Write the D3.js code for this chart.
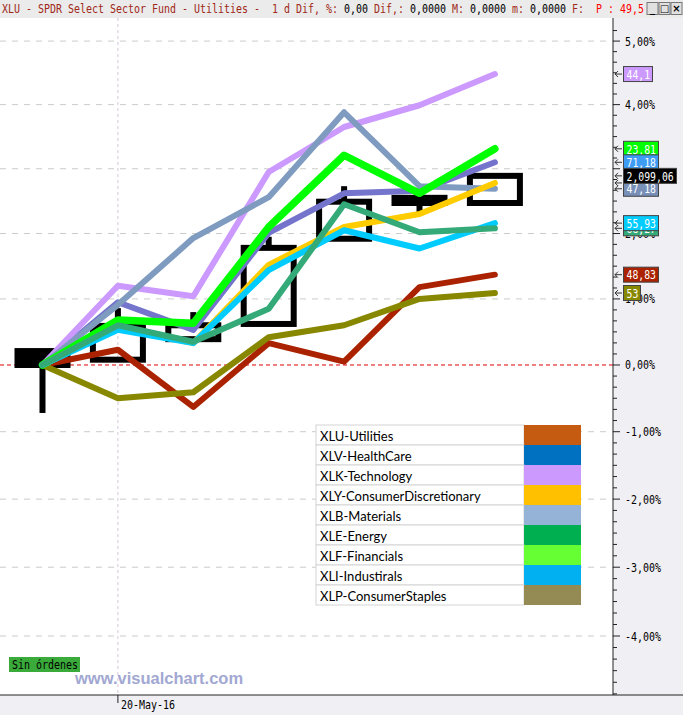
<!DOCTYPE html>
<html><head><meta charset="utf-8">
<script src="https://cdn.jsdelivr.net/npm/d3@7"></script>
<style>html,body{margin:0;padding:0;background:#fff;overflow:hidden}</style>
</head><body><svg id="c" width="683" height="715"></svg>
<script>
// ---------------- DATA ----------------
const dates = ["19-May-16","20-May-16","23-May-16","24-May-16","25-May-16","26-May-16","27-May-16"];
const seriesNames = ["XLU-Utilities","XLV-HealthCare","XLK-Technology","XLY-ConsumerDiscretionary","XLB-Materials","XLE-Energy","XLF-Financials","XLI-Industirals","XLP-ConsumerStaples"];
// % change vs first session
const xlu = [0, 0.23, -0.63, 0.33, 0.05, 1.18, 1.37];
const xlv = [0, 0.95, 0.53, 2.01, 2.62, 2.66, 3.10];
const xlk = [0, 1.20, 1.04, 2.95, 3.65, 3.99, 4.48];
const xly = [0, 0.57, 0.33, 1.52, 2.10, 2.30, 2.78];
const xlb = [0, 0.91, 1.93, 2.56, 3.88, 2.73, 2.69];
const xle = [0, 0.60, 0.35, 0.85, 2.45, 2.02, 2.08];
const xlf = [0, 0.68, 0.63, 2.10, 3.21, 2.62, 3.31];
const xli = [0, 0.53, 0.33, 1.44, 2.05, 1.77, 2.16];
const xlp = [0, -0.50, -0.41, 0.42, 0.60, 1.00, 1.09];
// main series candles (% vs first close)
const candleOpen  = [0.21, 0.08, 0.39, 0.62, 1.92, 2.55, 2.47];
const candleHigh  = [0.21, 0.86, 0.80, 1.95, 2.73, 2.55, 2.89];
const candleLow   = [-0.72, 0.08, 0.39, 0.62, 1.92, 2.32, 2.47];
const candleClose = [0.00, 0.59, 0.60, 1.78, 2.49, 2.47, 2.89];
const mainLabel = "2,099,06";
const lastLabels = ["48,83","71,18","44,1","79,67","47,18","68,27","23,81","55,93","53"];
const yTickValues = [5,4,3,2,1,0,-1,-2,-3,-4];
const yTickLabels = ["5,00%","4,00%","3,00%","2,00%","1,00%","0,00%","-1,00%","-2,00%","-3,00%","-4,00%"];
const xTickDates = ["20-May-16"];
const titleParts = ["XLU - SPDR Select Sector Fund - Utilities -  1 d Dif, %: ","0,00 ","Dif,: ","0,0000 ","M: ","0,0000 ","m: ","0,0000 ","F:  ","P : 49,5"];
const badgeText = "Sin órdenes";
const watermark = "www.visualchart.com";

// ---------------- STYLE ----------------
const lineColors   = ["#aa2200","#7474cc","#cc99ff","#ffcc00","#7f9cc0","#33aa77","#00ff00","#00ccff","#888800"];
const labelColors  = ["#aa2200","#3d9df5","#cc99ff","#ffcc00","#7890b8","#33aa77","#00ff00","#00ccff","#888800"];
const legendColors = ["#c55a11","#0070c0","#cc99ff","#ffc000","#95b3d7","#00b050","#66ff33","#00b0f0","#948a54"];
const seriesValues = [xlu,xlv,xlk,xly,xlb,xle,xlf,xli,xlp];
const lineOrder = [0,8,1,2,4,6,3,7,5];
const labelOrder = [3,5,0,8,2,6,1,4,7];

const W=683,H=715, plotL=0, plotR=613, plotT=18, plotB=695;
const svg = d3.select("#c");
const mono = "'DejaVu Sans Mono', monospace";
function pix(sel, str, size, cw){
  sel.attr("font-family", mono).attr("font-size", size||13)
     .attr("textLength", str.length*(cw||6)).attr("lengthAdjust","spacingAndGlyphs")
     .style("white-space","pre").text(str);
  return sel;
}

const x = d3.scalePoint().domain(dates).range([42.5, 494.9]);
const yLog = d3.scaleLog().domain([0.95165, 1.05334]).range([694, 20]);
const Y = p => yLog(1 + p/100);

// backgrounds
svg.append("rect").attr("x",0).attr("y",0).attr("width",W).attr("height",H).attr("fill","#fff");
svg.append("rect").attr("x",plotR).attr("y",plotT).attr("width",W-plotR).attr("height",H-plotT).attr("fill","#f0eff3");
svg.append("rect").attr("x",0).attr("y",plotB).attr("width",W).attr("height",H-plotB).attr("fill","#f0eff3");
svg.append("rect").attr("x",0).attr("y",0).attr("width",W).attr("height",plotT).attr("fill","#ebebeb");

// grid
const grid = svg.append("g");
yTickValues.filter(v=>v!==0).forEach(v=>{
  grid.append("line").attr("x1",plotL).attr("x2",plotR).attr("y1",Y(v)).attr("y2",Y(v))
    .attr("stroke","#c8cdc8").attr("stroke-dasharray","6,6");
});
grid.append("line").attr("x1",plotL).attr("x2",plotR).attr("y1",Y(0)).attr("y2",Y(0))
  .attr("stroke","#e00000").attr("stroke-dasharray","4,3");
xTickDates.forEach(d=>{
  grid.append("line").attr("x1",x(d)).attr("x2",x(d)).attr("y1",plotT).attr("y2",plotB)
    .attr("stroke","#d8c8dc").attr("stroke-dasharray","3,3");
});

// candles
const cw = 50;
const cg = svg.append("g");
dates.forEach((d,i)=>{
  const o=candleOpen[i], c=candleClose[i], h=candleHigh[i], l=candleLow[i];
  const top = Y(Math.max(o,c)), bot = Y(Math.min(o,c));
  if (h > Math.max(o,c)) cg.append("line").attr("x1",x(d)).attr("x2",x(d)).attr("y1",Y(h)).attr("y2",top).attr("stroke","#000").attr("stroke-width",6);
  if (l < Math.min(o,c)) cg.append("line").attr("x1",x(d)).attr("x2",x(d)).attr("y1",bot).attr("y2",Y(l)).attr("stroke","#000").attr("stroke-width",6);
  cg.append("rect").attr("x",x(d)-cw/2).attr("y",top).attr("width",cw).attr("height",Math.max(1,bot-top))
    .attr("fill", c<o ? "#000" : "none").attr("stroke","#000").attr("stroke-width",6);
});

// lines
const line = d3.line().x((v,i)=>x(dates[i])).y(v=>Y(v));
const lg = svg.append("g");
lineOrder.forEach(k=>{
  lg.append("path").attr("d",line(seriesValues[k])).attr("fill","none")
    .attr("stroke",lineColors[k]).attr("stroke-width", k===6?7.5:6)
    .attr("stroke-linejoin","round").attr("stroke-linecap","round");
});

// right axis
const ax = svg.append("g");
ax.append("line").attr("x1",plotR).attr("x2",plotR).attr("y1",plotT).attr("y2",plotB).attr("stroke","#222");
d3.range(-29,32).forEach(k=>{
  const v=k/6, yy=Y(v);
  if (yy<plotT+2||yy>plotB-1) return;
  ax.append("line").attr("x1",plotR).attr("x2",plotR+(k%6===0?7:4)).attr("y1",yy).attr("y2",yy).attr("stroke","#222");
});
yTickValues.forEach((v,i)=>{
  pix(ax.append("text").attr("x",625).attr("y",Y(v)+4.5).attr("fill","#000"), yTickLabels[i]);
});
// bottom axis
ax.append("line").attr("x1",0).attr("x2",W).attr("y1",plotB).attr("y2",plotB).attr("stroke","#222");
xTickDates.forEach(d=>{
  ax.append("line").attr("x1",x(d)).attr("x2",x(d)).attr("y1",plotB).attr("y2",plotB+8).attr("stroke","#222");
  pix(ax.append("text").attr("x",x(d)+3).attr("y",plotB+14).attr("fill","#000"), d);
});

// last value labels
const lb = svg.append("g");
function arrow(yy){
  lb.append("path").attr("d",`M622,${yy}H615M618,${yy-3}L615,${yy}L618,${yy+3}`).attr("stroke","#333").attr("fill","none");
}
function badge(yy, txt, fill){
  arrow(yy);
  lb.append("rect").attr("x",623.5).attr("y",yy-7.5).attr("width",txt.length*6+5).attr("height",15)
    .attr("fill",fill).attr("stroke","#444");
  pix(lb.append("text").attr("x",626.5).attr("y",yy+4.7).attr("fill","#fff"), txt, 13, 5.9);
}
labelOrder.forEach(k=>{
  const vals=seriesValues[k];
  badge(Y(vals[vals.length-1]), lastLabels[k], labelColors[k]);
});
badge(Y(candleClose[candleClose.length-1]), mainLabel, "#000");

// legend
const leg = svg.append("g");
const lx=316, ly=425, rh=20, tw=208, sw=57;
seriesNames.forEach((n,i)=>{
  leg.append("rect").attr("x",lx).attr("y",ly+i*rh).attr("width",tw).attr("height",rh).attr("fill","#fff").attr("stroke","#d4d4d4");
  leg.append("rect").attr("x",lx+tw).attr("y",ly+i*rh).attr("width",sw).attr("height",rh).attr("fill",legendColors[i]);
  leg.append("text").attr("x",lx+4).attr("y",ly+i*rh+15.5).attr("font-family","Lato, sans-serif").attr("font-size",13).attr("fill","#000").text(n);
});

// badge + watermark
svg.append("rect").attr("x",9).attr("y",657).attr("width",71).attr("height",15).attr("fill","#3aaa3a");
pix(svg.append("text").attr("x",12).attr("y",669).attr("fill","#000"), badgeText);
svg.append("text").attr("x",75).attr("y",684).attr("font-family","'Liberation Sans', Arial, sans-serif").attr("font-weight","bold")
  .attr("font-size",16.5).attr("fill","#a2a8d2").text(watermark);

// title (single monospace text with coloured spans)
const full = titleParts.join("");
const tcol = (i)=> i===titleParts.length-1 ? "#ff0000" : (i%2===0 ? "#a02818" : "#000");
const tt = svg.append("text").attr("x",2).attr("y",13).attr("font-family",mono).attr("font-size",13)
  .attr("textLength", full.length*6).attr("lengthAdjust","spacingAndGlyphs").style("white-space","pre");
titleParts.forEach((p,i)=>{ tt.append("tspan").attr("fill",tcol(i)).text(p); });
// window buttons
["_","□","×"].forEach((s,i)=>{
  const bx=647+i*12;
  svg.append("rect").attr("x",bx).attr("y",2.5).attr("width",11).attr("height",12).attr("fill","#e0e0e0").attr("stroke","#777");
  svg.append("text").attr("x",bx+5.5).attr("y",12).attr("text-anchor","middle").attr("font-family","'DejaVu Sans', sans-serif").attr("font-size",10).attr("font-weight","bold").attr("fill","#000").text(s);
});
</script></body></html>
